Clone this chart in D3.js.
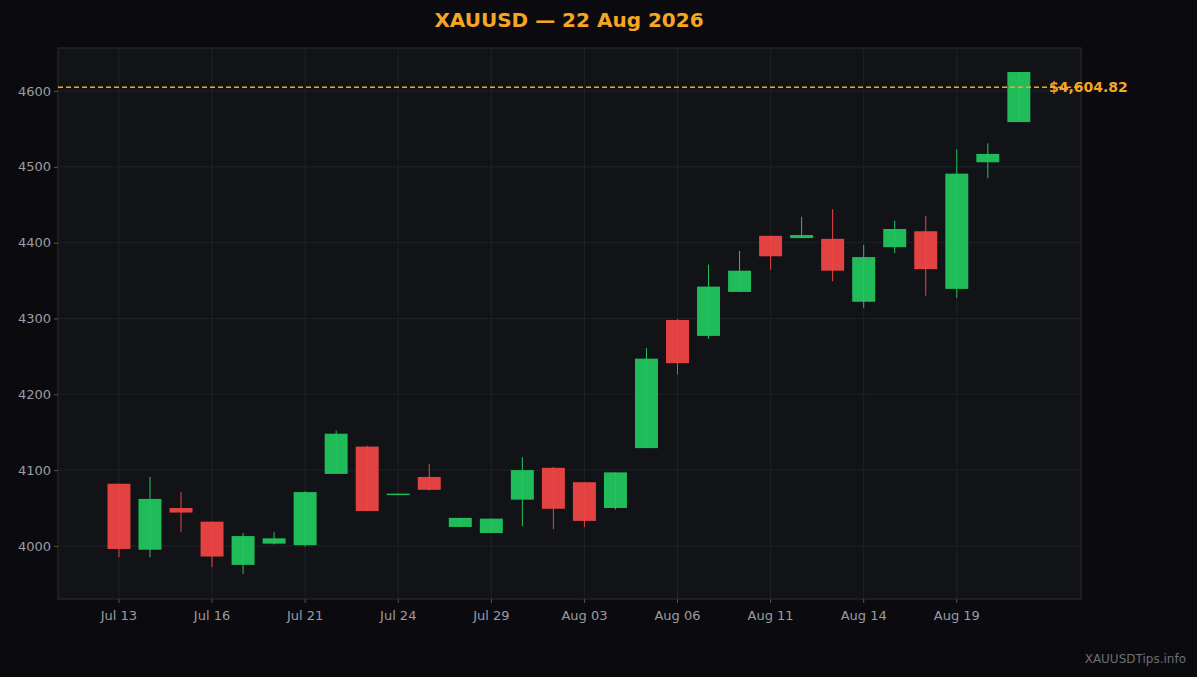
<!DOCTYPE html>
<html><head><meta charset="utf-8">
<script src="https://cdn.jsdelivr.net/npm/d3@7"></script>
<style>body{margin:0;background:#0b0b0f;}svg{display:block;font-family:"DejaVu Sans",sans-serif;}</style>
</head><body><svg id="c" width="1197" height="677"></svg>
<script>
const dates=["Jul 13","Jul 14","Jul 15","Jul 16","Jul 17","Jul 20","Jul 21","Jul 22","Jul 23","Jul 24","Jul 27","Jul 28","Jul 29","Jul 30","Jul 31","Aug 03","Aug 04","Aug 05","Aug 06","Aug 07","Aug 10","Aug 11","Aug 12","Aug 13","Aug 14","Aug 17","Aug 18","Aug 19","Aug 20","Aug 21"];
const open =[4082,3995,4050,4032,3975,4003,4001,4095,4131,4067,4091,4025,4017,4061,4103,4084,4050,4129,4298,4277,4335,4409,4406,4405,4322,4394,4415,4339,4506,4559];
const close=[3996,4062,4044,3986,4013,4010,4071,4148,4046,4069,4074,4037,4036,4100,4049,4033,4097,4247,4241,4342,4363,4382,4410,4363,4381,4418,4365,4491,4517,4625];
const high =[4082,4091,4071,4032,4017,4018,4072,4152,4132,4069,4108,4037,4036,4117,4104,4084,4097,4261,4299,4371,4389,4409,4434,4444,4397,4429,4435,4523,4531,4625];
const low  =[3985,3985,4018,3972,3963,4002,3999,4095,4046,4067,4073,4025,4017,4026,4022,4025,4048,4129,4226,4273,4335,4364,4406,4349,4314,4386,4330,4327,4485,4559];
const tickDates=["Jul 13","Jul 16","Jul 21","Jul 24","Jul 29","Aug 03","Aug 06","Aug 11","Aug 14","Aug 19"];
const yTicks=[4000,4100,4200,4300,4400,4500,4600];
const lastPrice=4604.82;
const title="XAUUSD — 22 Aug 2026";

const svg=d3.select("#c");
const L=58,R=1081,T=48,B=599;
const x=d3.scaleBand().domain(dates).range([99.4,1038.4]).padding(0.26);
const y=d3.scaleLinear().domain([3930,4656.7]).range([B,T]);
svg.append("rect").attr("x",L).attr("y",T).attr("width",R-L).attr("height",B-T).attr("fill","#111317").attr("stroke","#2c2e33");
svg.append("text").attr("x",569).attr("y",27).attr("text-anchor","middle").attr("fill","#f5a623").attr("font-size",20).attr("font-weight","bold").text(title);
const cx=d=>x(d)+x.bandwidth()/2;
svg.append("g").selectAll("line").data(yTicks).join("line").attr("x1",L).attr("x2",R).attr("y1",d=>y(d)).attr("y2",d=>y(d)).attr("stroke","#1f2227");
svg.append("g").selectAll("line").data(tickDates).join("line").attr("x1",cx).attr("x2",cx).attr("y1",T).attr("y2",B).attr("stroke","#1f2227");
const ya=svg.append("g").attr("transform",`translate(${L},0)`).call(d3.axisLeft(y).tickValues(yTicks).tickSize(4).tickFormat(d3.format("d")));
const xa=svg.append("g").attr("transform",`translate(0,${B})`).call(d3.axisBottom(x).tickValues(tickDates).tickSize(4));
[ya,xa].forEach(a=>{a.select(".domain").remove();a.selectAll("line").attr("stroke","#555");a.selectAll("text").attr("fill","#9a9ca3").attr("font-size",13).attr("font-family","DejaVu Sans");});
xa.selectAll("text").attr("dy","1.1em");
const idx=d3.range(dates.length);
const col=i=>close[i]>=open[i]?"#22c55e":"#ef4444";
const g=svg.append("g");
g.selectAll("line").data(idx).join("line").attr("x1",i=>cx(dates[i])).attr("x2",i=>cx(dates[i])).attr("y1",i=>y(high[i])).attr("y2",i=>y(low[i])).attr("stroke",col).attr("stroke-width",1);
g.selectAll("rect").data(idx).join("rect").attr("x",i=>x(dates[i])).attr("width",x.bandwidth()).attr("y",i=>y(Math.max(open[i],close[i]))).attr("height",i=>Math.max(1.5,Math.abs(y(open[i])-y(close[i])))).attr("fill",col).attr("opacity",0.95);
svg.append("line").attr("x1",L).attr("x2",R).attr("y1",y(lastPrice)).attr("y2",y(lastPrice)).attr("stroke","#f5a623").attr("stroke-dasharray","5,3").attr("stroke-width",1.5);
svg.append("text").attr("x",1049).attr("y",y(lastPrice)+5).attr("fill","#f5a623").attr("font-size",14).attr("font-weight","bold").text("$"+d3.format(",.2f")(lastPrice));
svg.append("text").attr("x",1186).attr("y",663).attr("text-anchor","end").attr("fill","#6b6e75").attr("font-size",12).text("XAUUSDTips.info");
</script></body></html>
